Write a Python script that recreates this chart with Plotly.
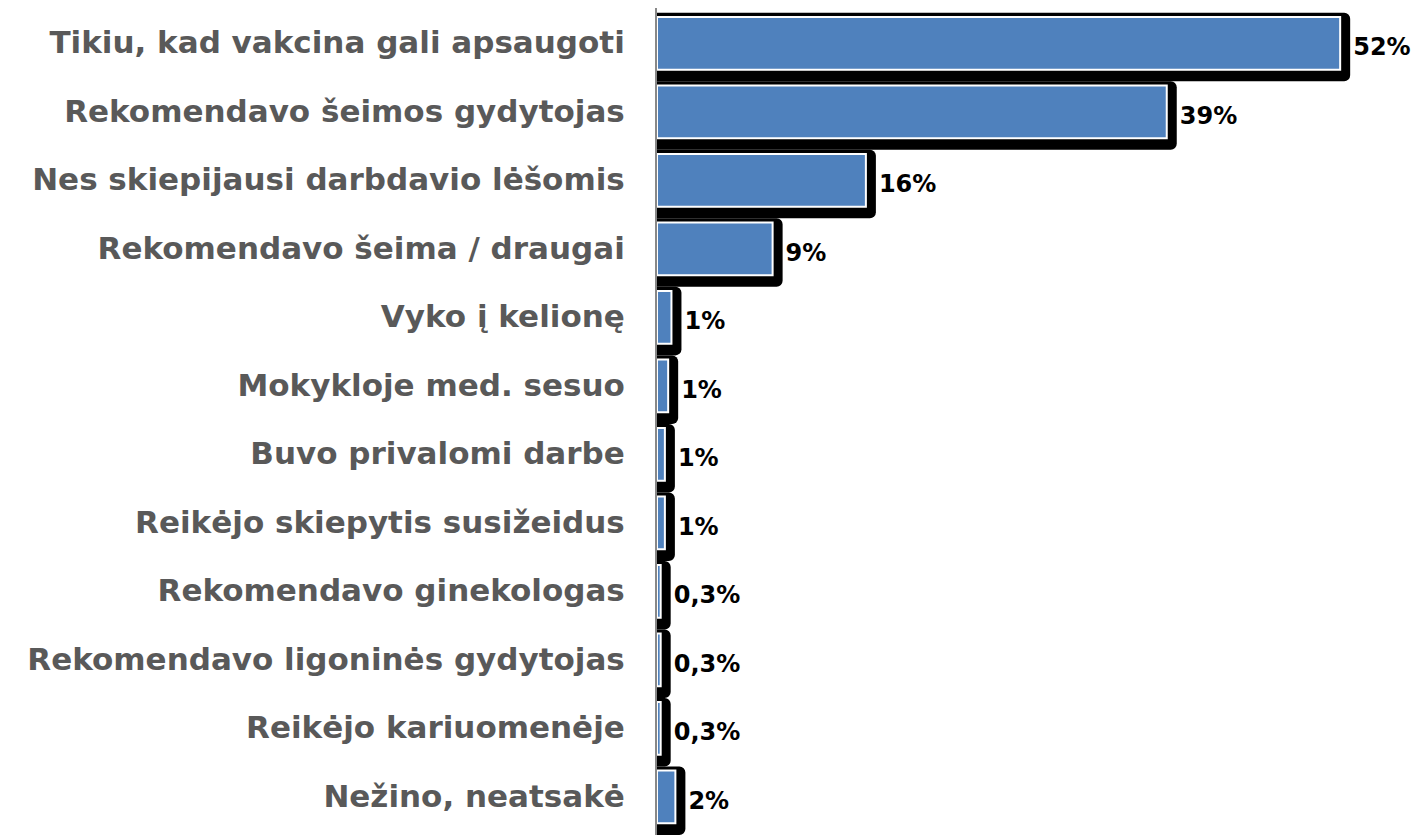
import plotly.graph_objects as go

categories = [
    "Tikiu, kad vakcina gali apsaugoti",
    "Rekomendavo šeimos gydytojas",
    "Nes skiepijausi darbdavio lėšomis",
    "Rekomendavo šeima / draugai",
    "Vyko į kelionę",
    "Mokykloje med. sesuo",
    "Buvo privalomi darbe",
    "Reikėjo skiepytis susižeidus",
    "Rekomendavo ginekologas",
    "Rekomendavo ligoninės gydytojas",
    "Reikėjo kariuomenėje",
    "Nežino, neatsakė",
]
values = [52.0, 38.8, 15.9, 8.8, 1.1, 0.85, 0.6, 0.6, 0.28, 0.28, 0.28, 1.4]
value_labels = ["52%", "39%", "16%", "9%", "1%", "1%", "1%", "1%", "0,3%", "0,3%", "0,3%", "2%"]

W, H = 1411, 827
ML, MR, MT, MB = 649, 0, 0, 0
XMAX = 58.0
px_per_unit = (W - ML - MR) / XMAX
SHADOW_PX = 10
shadow_vals = [v + SHADOW_PX / px_per_unit for v in values]

FONT = "DejaVu Sans, Liberation Sans, Arial, sans-serif"

fig = go.Figure()
# black shadow bars
fig.add_trace(go.Bar(
    y=categories, x=shadow_vals, orientation="h",
    width=1.0, offset=-0.43,
    marker=dict(color="black", line=dict(width=0), cornerradius=6),
    text=value_labels, textposition="outside",
    textfont=dict(family=FONT, size=24, color="black", weight="bold"),
    cliponaxis=False, hoverinfo="skip", showlegend=False,
))
# blue bars
fig.add_trace(go.Bar(
    y=categories, x=values, orientation="h",
    width=0.77, offset=-0.37,
    marker=dict(color="#4F81BD", line=dict(color="white", width=2)),
    hoverinfo="skip", showlegend=False,
))

fig.update_layout(
    width=W, height=H,
    margin=dict(l=ML, r=MR, t=MT, b=MB, autoexpand=False),
    barmode="overlay",
    plot_bgcolor="white", paper_bgcolor="white",
    xaxis=dict(range=[0, XMAX], visible=False, showgrid=False, zeroline=False, automargin=False),
    yaxis=dict(
        autorange="reversed", showgrid=False, zeroline=False, automargin=False,
        showline=True, linecolor="#888888", linewidth=2,
        ticks="", ticklabelstandoff=24,
        tickfont=dict(family=FONT, size=31, color="#595959", weight="bold"),
    ),
)

fig.write_html("out.html")
